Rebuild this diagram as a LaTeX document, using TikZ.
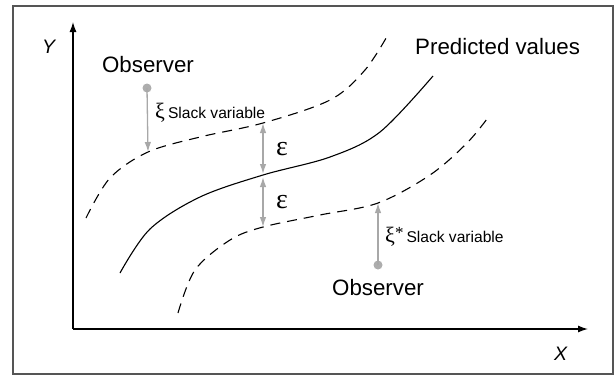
\documentclass[tikz,border=0pt]{standalone}
\usepackage{fontspec}
\setmainfont{Liberation Sans}
\newfontfamily\grk{Liberation Serif}
\usetikzlibrary{arrows.meta}
\definecolor{framegray}{HTML}{555555}
\definecolor{arrgray}{HTML}{A8A8A8}
\definecolor{dotgray}{HTML}{ADADAD}
\tikzset{
  big/.style={font=\fontsize{22.3}{26}\selectfont, inner sep=0pt},
  axlab/.style={font=\fontsize{19.5}{22}\selectfont\itshape, inner sep=0pt},
  slack/.style={font=\fontsize{15.6}{18}\selectfont, inner sep=0pt},
  eps/.style={font=\fontsize{28}{31}\selectfont\grk, inner sep=0pt},
  axis/.style={line width=1.3pt, -{Latex[length=10pt,width=7pt]}},
  curve/.style={line width=1.1pt},
  dcurve/.style={line width=1.1pt, dash pattern=on 10pt off 7pt},
  garrow/.style={line width=1.3pt, arrgray, -{Latex[length=10pt,width=6.5pt]}},
  gdarrow/.style={line width=1.3pt, arrgray, {Latex[length=10pt,width=6.5pt]}-{Latex[length=10pt,width=6.5pt]}},
  obsdot/.style={circle, fill=dotgray, inner sep=0pt, minimum size=9pt},
}
\begin{document}
\begin{tikzpicture}[x=1pt, y=-1pt]
\useasboundingbox (0,0) rectangle (616,376);
\draw[framegray, line width=1.5pt] (13,6) rectangle (613,374);

% axes
\coordinate (O) at (73,329);
\coordinate (ytip) at (73,22);
\coordinate (xtip) at (588,329);
\draw[axis] (O) -- (ytip);
\draw[axis] (O) -- (xtip);
\node[axlab, anchor=base west] (ylab) at (42,53) {Y};
\node[axlab, anchor=base west] (xlab) at (554,360) {X};

% curves
\draw[dcurve] plot[smooth, tension=0.55] coordinates {(86,218) (110,178) (148,152) (200,137) (263,123) (330,100) (365,70) (389,33)};
\draw[curve] plot[smooth, tension=0.55] coordinates {(120,273) (150,229) (200,197) (263,175) (330,157) (380,132) (433,76)};
\draw[dcurve] plot[smooth, tension=0.55] coordinates {(178,313) (195,270) (230,240) (263,227) (320,215) (378,203) (430,175) (467,143) (490,115)};

% points on curves
\coordinate (u1) at (148,152);
\coordinate (e1) at (263,123);
\coordinate (e2a) at (263,174);
\coordinate (e2b) at (263,177);
\coordinate (e3) at (263,227);
\coordinate (l1) at (378,203);

% observers
\node[big, anchor=base] (obs1) at (148,72) {Observer};
\node[obsdot] (dot1) at (147,88) {};
\draw[garrow] (dot1.center) -- (u1);
\node[slack, anchor=base west] (sl1) at (155,118) {{\grk\fontsize{22}{24}\selectfont ξ}\hspace{3pt}Slack variable};

\node[big, anchor=base] (obs2) at (378,295) {Observer};
\node[obsdot] (dot2) at (378,265) {};
\draw[garrow] (dot2.center) -- (l1);
\node[slack, anchor=base west] (sl2) at (385,242) {{\grk\fontsize{22}{24}\selectfont ξ\raisebox{4pt}{\fontsize{17}{18}\selectfont *}}\hspace{3pt}Slack variable};

% epsilon
\draw[gdarrow] (e1) -- (e2a);
\draw[gdarrow] (e2b) -- (e3);
\node[eps, anchor=base west] (eps1) at (276,155) {ε};
\node[eps, anchor=base west] (eps2) at (276,208) {ε};

\node[big, anchor=base west] (pred) at (415,54) {Predicted values};
\end{tikzpicture}
\end{document}
